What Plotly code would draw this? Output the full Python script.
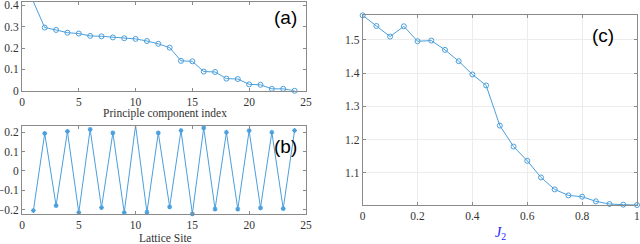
import plotly.graph_objects as go

# Panel (a)
pc_index = list(range(1, 25))
pc_values = [0.417, 0.296, 0.285, 0.272, 0.268, 0.257, 0.255, 0.250, 0.246, 0.243,
             0.233, 0.220, 0.202, 0.140, 0.138, 0.090, 0.088, 0.057, 0.055, 0.030,
             0.028, 0.009, 0.009, 0.0]

# Panel (b)
sites = list(range(1, 25))
site_values = [-0.204, 0.194, -0.179, 0.204, -0.215, 0.215, -0.189, 0.197, -0.215, 0.235,
               -0.213, 0.197, -0.185, 0.209, -0.221, 0.223, -0.197, 0.200, -0.197, 0.208,
               -0.190, 0.200, -0.194, 0.209]

# Panel (c)
j2 = [0.0, 0.05, 0.1, 0.15, 0.2, 0.25, 0.3, 0.35, 0.4, 0.45, 0.5,
      0.55, 0.6, 0.65, 0.7, 0.75, 0.8, 0.85, 0.9, 0.95, 1.0]
c_values = [1.574, 1.542, 1.510, 1.541, 1.496, 1.498, 1.470, 1.436, 1.396, 1.363, 1.242,
            1.179, 1.136, 1.086, 1.050, 1.032, 1.028, 1.014, 1.006, 1.004, 1.003]

blue = "#4a9fdc"
fig = go.Figure()
fig.add_trace(go.Scatter(x=pc_index, y=pc_values, mode="lines+markers",
                         line=dict(color=blue, width=1),
                         marker=dict(symbol="circle-open", size=5, color=blue, line=dict(width=1)),
                         xaxis="x", yaxis="y", cliponaxis=False))
fig.add_trace(go.Scatter(x=sites, y=site_values, mode="lines+markers",
                         line=dict(color=blue, width=1),
                         marker=dict(symbol="asterisk-open", size=4, color=blue, line=dict(width=1.2, color=blue)),
                         xaxis="x2", yaxis="y2", cliponaxis=False))
fig.add_trace(go.Scatter(x=j2, y=c_values, mode="lines+markers",
                         line=dict(color=blue, width=1),
                         marker=dict(symbol="circle-open", size=5, color=blue, line=dict(width=1)),
                         xaxis="x3", yaxis="y3", cliponaxis=False))

tickfont = dict(family="Liberation Serif", size=11.5, color="#333333")
common = dict(showline=True, linecolor="#8a8a8a", linewidth=1, mirror="ticks",
              ticks="inside", ticklen=3, tickcolor="#8a8a8a", tickfont=tickfont,
              zeroline=False, showgrid=False, automargin=False, ticklabeloverflow="allow")

fig.update_layout(
    template="none",
    width=640, height=244, margin=dict(l=0, r=0, t=0, b=0),
    paper_bgcolor="white", plot_bgcolor="white", showlegend=False,
    xaxis=dict(domain=[0.0344, 0.478], range=[0, 25], tickvals=[0, 5, 10, 15, 20, 25],
               anchor="y", **common),
    yaxis=dict(domain=[0.628, 0.992], range=[0, 0.416], tickvals=[0, 0.1, 0.2, 0.3, 0.4],
               anchor="x", **common),
    xaxis2=dict(domain=[0.0344, 0.478], range=[0, 25], tickvals=[0, 5, 10, 15, 20, 25],
                anchor="y2", **common),
    yaxis2=dict(domain=[0.123, 0.485], range=[-0.222, 0.234],
                tickvals=[-0.2, -0.1, 0, 0.1, 0.2], anchor="x2", **common),
    xaxis3=dict(domain=[0.5667, 0.9953], range=[0, 1],
                tickvals=[0, 0.2, 0.4, 0.6, 0.8, 1], ticktext=["0", "0.2", "0.4", "0.6", "0.8", "1"],
                anchor="y3", **{**common, "showgrid": True, "gridcolor": "#ececec"}),
    yaxis3=dict(domain=[0.1598, 0.9385], range=[1.003, 1.575],
                tickvals=[1.1, 1.2, 1.3, 1.4, 1.5], anchor="x3",
                **{**common, "showgrid": True, "gridcolor": "#ececec"}),
)

def note(text, x, y, font):
    fig.add_annotation(text=text, x=x/640, y=1-y/244, xref="paper", yref="paper",
                       xanchor="center", yanchor="middle", showarrow=False, font=font)

lab = dict(family="Liberation Sans", size=19, color="black")
note("(a)", 285, 17, lab)
note("(b)", 285, 146, lab)
note("(c)", 603, 36, lab)

tf = dict(family="Liberation Serif", size=11.5, color="#333333")
note("Principle component index", 165, 113, tf)
note("Lattice Site", 165, 238, tf)
note("<i>J</i><sub>2</sub>", 500, 233, dict(family="Liberation Serif", size=14, color="#1a1aff"))

fig.write_html("out.html", config={"displayModeBar": False},
               post_script="document.body.style.margin='0';document.body.style.overflow='hidden';")
